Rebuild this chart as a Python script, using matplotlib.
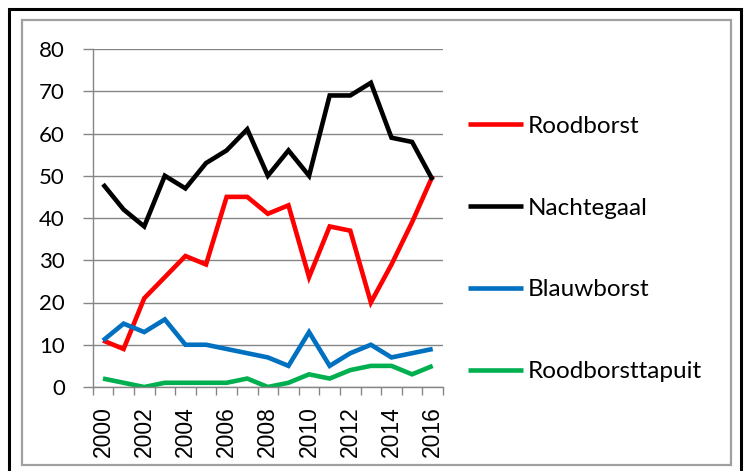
import numpy as np
import matplotlib
matplotlib.use('Agg')
import matplotlib.pyplot as plt
from matplotlib.patches import Rectangle

plt.rcParams['font.family'] = ['Lato', 'DejaVu Sans']

years = list(range(2000, 2017))
roodborst = [11, 9, 21, 26, 31, 29, 45, 45, 41, 43, 26, 38, 37, 20, 29, 39, 50]
nachtegaal = [48, 42, 38, 50, 47, 53, 56, 61, 50, 56, 50, 69, 69, 72, 59, 58, 49]
blauwborst = [11, 15, 13, 16, 10, 10, 9, 8, 7, 5, 13, 5, 8, 10, 7, 8, 9]
roodborsttapuit = [2, 1, 0, 1, 1, 1, 1, 2, 0, 1, 3, 2, 4, 5, 5, 3, 5]

series = [
    ('Roodborst', roodborst, '#FF0000'),
    ('Nachtegaal', nachtegaal, '#000000'),
    ('Blauwborst', blauwborst, '#0070C0'),
    ('Roodborsttapuit', roodborsttapuit, '#00B050'),
]

W, H = 748, 471
fig = plt.figure(figsize=(W / 100, H / 100), dpi=100)

# frames around the chart
fig.patches.append(Rectangle((9 / W, -0.05), 732 / W, 1.05 - 9 / H, transform=fig.transFigure,
                             fill=False, edgecolor='black', lw=2.2))
fig.patches.append(Rectangle((22 / W, 1 - 465 / H), 709 / W, 445 / H, transform=fig.transFigure,
                             fill=False, edgecolor='#A0A0A0', lw=1.6))

ax = fig.add_axes([92.7 / W, 1 - 387 / H, 350.3 / W, 338 / H])
x = np.arange(len(years))
for name, vals, col in series:
    ax.plot(x, vals, color=col, lw=3.3, label=name, solid_joinstyle='miter', solid_capstyle='butt')

ax.set_xlim(-0.5, len(years) - 0.5)
ax.set_ylim(0, 80)
ax.set_yticks(range(0, 81, 10))
ax.set_xticks(x[::2])
ax.set_xticklabels([str(y) for y in years[::2]], rotation=90,
                   family=['Liberation Sans', 'DejaVu Sans'])
ax.set_xticks(np.arange(-0.5, len(years)), minor=True)
ax.tick_params(axis='x', which='major', length=0, pad=14, labelsize=16.5)
ax.tick_params(axis='x', which='minor', length=6, width=1, color='#868686')
ax.tick_params(axis='y', length=7, width=1, color='#868686', pad=13, labelsize=16)
ax.grid(axis='y', color='#868686', lw=1)
ax.set_axisbelow(True)
for s in ['top', 'right']:
    ax.spines[s].set_visible(False)
for s in ['left', 'bottom']:
    ax.spines[s].set_color('#868686')
    ax.spines[s].set_linewidth(1)

fig.legend(loc='center left', bbox_to_anchor=(446 / W, 1 - 249 / H), frameon=False,
           fontsize=17.5, handlelength=2.26, handletextpad=0.2, labelspacing=2.5)

fig.savefig('out.png', dpi=100)
